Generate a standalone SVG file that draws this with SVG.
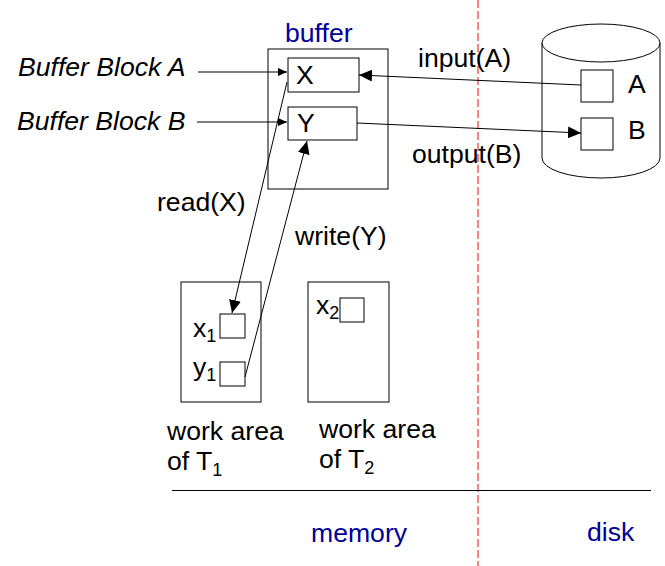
<svg xmlns="http://www.w3.org/2000/svg" width="665" height="566" viewBox="0 0 665 566">
<style>
text{font-family:"Liberation Sans",Arial,sans-serif;font-size:26.6px;fill:#000}
.blue{fill:#000099}
.it{font-style:italic}
.sub{font-size:18px}
.box{fill:#fff;stroke:#000;stroke-width:1}
.ln{fill:none;stroke:#000;stroke-width:1}
</style>
<defs>
<marker id="big" viewBox="0 0 13 12" refX="13" refY="6" markerWidth="13" markerHeight="12" markerUnits="userSpaceOnUse" orient="auto">
<path d="M0,0 L13,6 L0,12 z" fill="#000"/>
</marker>
<marker id="small" viewBox="0 0 9 8" refX="9" refY="4" markerWidth="9" markerHeight="8" markerUnits="userSpaceOnUse" orient="auto">
<path d="M0,0 L9,4 L0,8 z" fill="#000"/>
</marker>
</defs>
<rect width="665" height="566" fill="#fff"/>

<g id="divider">
<line x1="478" y1="0" x2="478" y2="566" stroke="#f03030" stroke-width="1.2" stroke-dasharray="8,3"/>
<line x1="172" y1="490.5" x2="651" y2="490.5" stroke="#000" stroke-width="1"/>
<text x="311" y="542" class="blue">memory</text>
<text x="587" y="541" class="blue">disk</text>
</g>

<g id="buffer">
<rect x="268" y="49" width="120" height="140" class="box"/>
<text x="285" y="42" class="blue">buffer</text>
</g>
<g id="blockX">
<rect x="288" y="58" width="71" height="34" class="box"/>
<text x="296" y="84">X</text>
</g>
<g id="blockY">
<rect x="288" y="107" width="69" height="33" class="box"/>
<text x="297" y="132">Y</text>
</g>

<g id="disk">
<path d="M542,43 L542,158 A59,20 0 0 0 660,158 L660,43" class="box"/>
<ellipse cx="601" cy="43" rx="59" ry="19" class="box"/>
<rect x="581" y="70" width="32" height="32" class="box"/>
<text x="628" y="93">A</text>
<rect x="581" y="118" width="32" height="32" class="box"/>
<text x="628" y="139">B</text>
</g>

<g id="workT1">
<rect x="181" y="282" width="80" height="120" class="box"/>
<rect x="220" y="314" width="25" height="24" class="box"/>
<text x="193" y="337">x<tspan class="sub" dy="5">1</tspan></text>
<rect x="220" y="362" width="25" height="24" class="box"/>
<text x="193" y="376">y<tspan class="sub" dy="5">1</tspan></text>
<text x="167" y="440">work area</text>
<text x="167" y="470">of T<tspan class="sub" dy="6">1</tspan></text>
</g>

<g id="workT2">
<rect x="308" y="282" width="81" height="120" class="box"/>
<rect x="340" y="298" width="24" height="24" class="box"/>
<text x="316" y="314">x<tspan class="sub" dy="5">2</tspan></text>
<text x="319" y="438">work area</text>
<text x="319" y="468">of T<tspan class="sub" dy="6">2</tspan></text>
</g>

<g id="labels">
<text x="18" y="76" class="it">Buffer Block A</text>
<text x="17" y="130" class="it">Buffer Block B</text>
<text x="418" y="67">input(A)</text>
<text x="412" y="163">output(B)</text>
<text x="157" y="211">read(X)</text>
<text x="295" y="245">write(Y)</text>
</g>

<g id="connectors">
<line x1="198" y1="72" x2="287" y2="72" class="ln" marker-end="url(#small)"/>
<line x1="197" y1="122" x2="287" y2="122" class="ln" marker-end="url(#small)"/>
<line x1="581" y1="85" x2="359" y2="75" class="ln" marker-end="url(#big)"/>
<line x1="357" y1="123" x2="581" y2="133" class="ln" marker-end="url(#big)"/>
<line x1="287" y1="82" x2="232" y2="313" class="ln" marker-end="url(#big)"/>
<line x1="245" y1="377" x2="307" y2="141" class="ln" marker-end="url(#big)"/>
</g>
</svg>
